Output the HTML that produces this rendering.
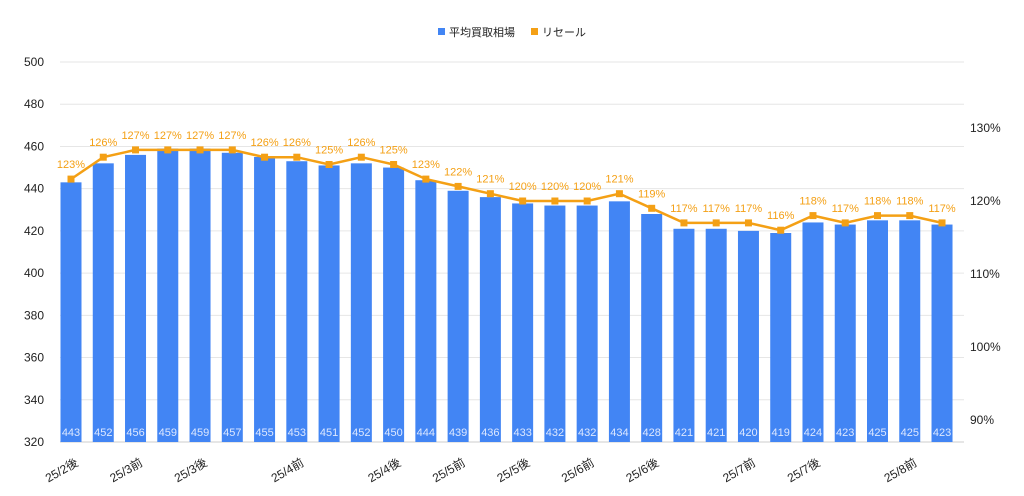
<!DOCTYPE html>
<html><head><meta charset="utf-8"><style>
body{margin:0;background:#fff}
svg{display:block;font-family:"Liberation Sans","Noto Sans CJK JP",sans-serif}
</style></head><body>
<svg id="c" width="1024" height="496"></svg>
<script>
const categories=["25/2後","","25/3前","","25/3後","","","25/4前","","","25/4後","","25/5前","","25/5後","","25/6前","","25/6後","","","25/7前","","25/7後","","","25/8前",""];
const avgPrice=[443,452,456,459,459,457,455,453,451,452,450,444,439,436,433,432,432,434,428,421,421,420,419,424,423,425,425,423];
const resale=[123,126,127,127,127,127,126,126,125,126,125,123,122,121,120,120,120,121,119,117,117,117,116,118,117,118,118,117];
const leftTicks=[320,340,360,380,400,420,440,460,480,500];
const rightTicks=[90,100,110,120,130];
const NS="http://www.w3.org/2000/svg";
const svg=document.getElementById('c');
function el(t,a,txt){const e=document.createElementNS(NS,t);for(const k in a)e.setAttribute(k,a[k]);if(txt!=null)e.textContent=txt;svg.appendChild(e);return e;}
const yL=v=>442-(v-320)*380/180;
const yR=v=>420-(v-90)*7.3;
const xC=i=>71+i*32.26;
leftTicks.forEach(t=>{
  const g=el('line',{x1:60,x2:964,y1:yL(t),y2:yL(t),stroke:t==320?'#ccc':'#e6e6e6','stroke-width':1});
  
  const l=el('text',{x:44,y:yL(t)+4,'text-anchor':'end','font-size':12,fill:'#222'},t);
  
});
rightTicks.forEach(t=>{
  const l=el('text',{x:970,y:yR(t)+4,'font-size':12,fill:'#222'},t+'%');
  
});
avgPrice.forEach((v,i)=>{
  const r=el('rect',{x:xC(i)-10.5,y:yL(v),width:21,height:442-yL(v),fill:'#4285f4'});
  
  const t=el('text',{x:xC(i),y:436,'text-anchor':'middle','font-size':11,fill:'#dde8ff'},v);
  
});
const pl=el('polyline',{points:resale.map((v,i)=>xC(i)+','+yR(v)).join(' '),fill:'none',stroke:'#f4a015','stroke-width':2.5});

resale.forEach((v,i)=>{
  const m=el('rect',{x:xC(i)-3.5,y:yR(v)-3.5,width:7,height:7,fill:'#f4a015'});
  
  const t=el('text',{x:xC(i),y:yR(v)-11,'text-anchor':'middle','font-size':11,fill:'#f4a015'},v+'%');
  
});
categories.forEach((c,i)=>{
  if(!c)return;
  const x=xC(i)+8,y=465;
  const t=el('text',{x:x,y:y,'text-anchor':'end','font-size':12,fill:'#222',transform:`rotate(-30 ${x} ${y})`},c);
  
});
const lg=[[438,'#4285f4','平均買取相場'],[531,'#f4a015','リセール']];
lg.forEach(([x,c,s])=>{
  const r=el('rect',{x:x,y:28,width:7,height:7,fill:c});
  
  const t=el('text',{x:x+11,y:36,'font-size':11,fill:'#222'},s);
  
});
</script>
</body></html>
